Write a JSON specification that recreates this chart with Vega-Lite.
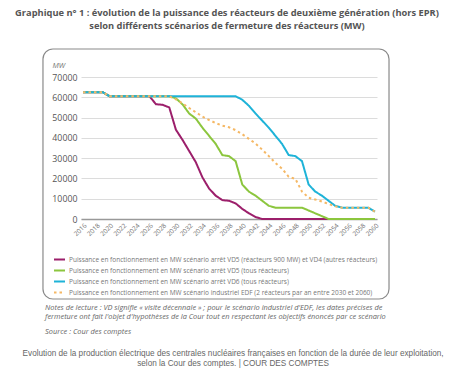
{
  "$schema": "https://vega.github.io/schema/vega-lite/v6.json",
  "padding": {"left": 15, "top": 9, "right": 5, "bottom": 5},
  "background": "white",
  "title": {
    "text": ["Evolution de la production électrique des centrales nucléaires françaises en fonction de la durée de leur exploitation,", "selon la Cour des comptes. | COUR DES COMPTES"],
    "orient": "bottom",
    "anchor": "start",
    "align": "center",
    "font": "Liberation Sans",
    "fontSize": 8.2,
    "fontWeight": "normal",
    "color": "#666666",
    "lineHeight": 10,
    "offset": 15,
    "dx": 218
  },
  "vconcat": [
    {
      "title": {
        "text": ["Notes de lecture : VD signifie « visite décennale » ; pour le scénario industriel d'EDF, les dates précises de", "fermeture ont fait l'objet d'hypothèses de la Cour tout en respectant les objectifs énoncés par ce scénario"],
        "subtitle": "Source : Cour des comptes",
        "orient": "bottom",
        "anchor": "start",
        "font": "Open Sans",
        "fontSize": 7.4,
        "fontStyle": "italic",
        "fontWeight": "normal",
        "color": "#666666",
        "lineHeight": 9.6,
        "subtitleFont": "Open Sans",
        "subtitleFontSize": 7.4,
        "subtitleFontStyle": "italic",
        "subtitleColor": "#666666",
        "subtitlePadding": 7,
        "offset": 4,
        "dx": 30
      },
      "vconcat": [
        {
          "width": 296,
          "height": 142,
          "title": {
            "text": ["Graphique n° 1 : évolution de la puissance des réacteurs de deuxième génération (hors EPR)", "selon différents scénarios de fermeture des réacteurs (MW)"],
            "anchor": "middle",
            "frame": "group",
            "dx": -2,
            "font": "Open Sans",
            "fontSize": 9.3,
            "fontWeight": "bold",
            "color": "#555555",
            "lineHeight": 13,
            "offset": 17
          },
          "layer": [
            {
              "data": {"values": [
                {"year": 2016, "a": 62500, "b": 62500, "c": 62500, "d": 62500},
                {"year": 2017, "a": 62500, "b": 62500, "c": 62500, "d": 62500},
                {"year": 2018, "a": 62500, "b": 62500, "c": 62500, "d": 62500},
                {"year": 2019, "a": 62500, "b": 62500, "c": 62500, "d": 62500},
                {"year": 2020, "a": 60500, "b": 60500, "c": 60500, "d": 60500},
                {"year": 2021, "a": 60500, "b": 60500, "c": 60500, "d": 60500},
                {"year": 2022, "a": 60500, "b": 60500, "c": 60500, "d": 60500},
                {"year": 2023, "a": 60500, "b": 60500, "c": 60500, "d": 60500},
                {"year": 2024, "a": 60500, "b": 60500, "c": 60500, "d": 60500},
                {"year": 2025, "a": 60500, "b": 60500, "c": 60500, "d": 60500},
                {"year": 2026, "a": 60500, "b": 60500, "c": 60500, "d": 60500},
                {"year": 2027, "a": 56600, "b": 60500, "c": 60500, "d": 60500},
                {"year": 2028, "a": 56300, "b": 60500, "c": 60500, "d": 60500},
                {"year": 2029, "a": 55000, "b": 60500, "c": 60500, "d": 60500},
                {"year": 2030, "a": 44000, "b": 59500, "c": 60500, "d": 59000},
                {"year": 2031, "a": 39000, "b": 56500, "c": 60500, "d": 57000},
                {"year": 2032, "a": 33500, "b": 52000, "c": 60500, "d": 54700},
                {"year": 2033, "a": 28000, "b": 49500, "c": 60500, "d": 52600},
                {"year": 2034, "a": 20500, "b": 45000, "c": 60500, "d": 50500},
                {"year": 2035, "a": 15000, "b": 41000, "c": 60500, "d": 48800},
                {"year": 2036, "a": 11500, "b": 37000, "c": 60500, "d": 47300},
                {"year": 2037, "a": 9300, "b": 31500, "c": 60500, "d": 46000},
                {"year": 2038, "a": 9000, "b": 31000, "c": 60500, "d": 45200},
                {"year": 2039, "a": 7700, "b": 28500, "c": 60500, "d": 43800},
                {"year": 2040, "a": 5000, "b": 17000, "c": 58800, "d": 41800},
                {"year": 2041, "a": 2800, "b": 13500, "c": 55800, "d": 39500},
                {"year": 2042, "a": 1000, "b": 11500, "c": 52000, "d": 37200},
                {"year": 2043, "a": 0, "b": 9000, "c": 48500, "d": 34200},
                {"year": 2044, "a": 0, "b": 6500, "c": 45000, "d": 31000},
                {"year": 2045, "a": 0, "b": 5600, "c": 41000, "d": 27600},
                {"year": 2046, "a": 0, "b": 5600, "c": 37000, "d": 24800},
                {"year": 2047, "a": 0, "b": 5600, "c": 31500, "d": 20800},
                {"year": 2048, "a": 0, "b": 5600, "c": 31000, "d": 19800},
                {"year": 2049, "a": 0, "b": 5600, "c": 28500, "d": 13500},
                {"year": 2050, "a": 0, "b": 4200, "c": 17000, "d": 10500},
                {"year": 2051, "a": 0, "b": 2800, "c": 13500, "d": 9600},
                {"year": 2052, "a": 0, "b": 1400, "c": 11500, "d": 8600},
                {"year": 2053, "a": 0, "b": 0, "c": 9000, "d": 7400},
                {"year": 2054, "a": 0, "b": 0, "c": 6500, "d": 6300},
                {"year": 2055, "a": 0, "b": 0, "c": 5600, "d": 5600},
                {"year": 2056, "a": 0, "b": 0, "c": 5600, "d": 5600},
                {"year": 2057, "a": 0, "b": 0, "c": 5600, "d": 5600},
                {"year": 2058, "a": 0, "b": 0, "c": 5600, "d": 5600},
                {"year": 2059, "a": 0, "b": 0, "c": 5600, "d": 5600},
                {"year": 2060, "a": 0, "b": 0, "c": 3600, "d": 3600}
              ]},
              "transform": [{"fold": ["a", "b", "c", "d"], "as": ["s", "mw"]}],
              "mark": {"type": "line", "strokeWidth": 2},
              "encoding": {
                "x": {
                  "field": "year", "type": "quantitative",
                  "scale": {"domain": [2015.7, 2060.3], "nice": false, "zero": false},
                  "axis": {
                    "values": [2016, 2018, 2020, 2022, 2024, 2026, 2028, 2030, 2032, 2034, 2036, 2038, 2040, 2042, 2044, 2046, 2048, 2050, 2052, 2054, 2056, 2058, 2060],
                    "tickCount": 23,
                    "format": "d", "labelAngle": -45, "labelFontSize": 6.5, "labelColor": "#707070", "labelFont": "Open Sans",
                    "labelOverlap": false, "labelBound": false,
                    "grid": false, "ticks": false, "domain": true, "domainColor": "#999999", "domainWidth": 1.5,
                    "title": null, "labelPadding": 3
                  }
                },
                "y": {
                  "field": "mw", "type": "quantitative",
                  "scale": {"domain": [0, 70000], "nice": false},
                  "axis": {
                    "values": [0, 10000, 20000, 30000, 40000, 50000, 60000, 70000],
                    "tickCount": 8,
                    "format": "d", "grid": true, "gridColor": "#dcdcdc", "gridWidth": 1,
                    "labelOverlap": false, "labelBound": false,
                    "domain": false, "ticks": false, "labelFontSize": 8.8, "labelColor": "#555555", "labelFont": "Open Sans",
                    "labelPadding": 4,
                    "title": "MW", "titleAngle": 0, "titleAlign": "left", "titleBaseline": "alphabetic",
                    "titleX": -29, "titleY": -10, "titleFont": "Open Sans", "titleFontSize": 7.5, "titleFontStyle": "italic",
                    "titleFontWeight": "normal", "titleColor": "#777777"
                  }
                },
                "color": {
                  "field": "s", "type": "nominal",
                  "scale": {"domain": ["a", "b", "c", "d"], "range": ["#9c1f6b", "#8cc63e", "#1eb3d8", "#f5b865"]},
                  "legend": {
                    "title": null, "orient": "none", "legendX": -28, "legendY": 176, "direction": "vertical",
                    "labelExpr": "datum.label == 'a' ? 'Puissance en fonctionnement en MW scénario arrêt VD5 (réacteurs 900 MW) et VD4 (autres réacteurs)' : datum.label == 'b' ? 'Puissance en fonctionnement en MW scénario arrêt VD5 (tous réacteurs)' : datum.label == 'c' ? 'Puissance en fonctionnement en MW scénario arrêt VD6 (tous réacteurs)' : 'Puissance en fonctionnement en MW scénario industriel EDF (2 réacteurs par an entre 2030 et 2060)'"
                  }
                },
                "strokeDash": {
                  "field": "s", "type": "nominal",
                  "scale": {"domain": ["a", "b", "c", "d"], "range": [[1, 0], [1, 0], [1, 0], [2.5, 3]]},
                  "legend": {
                    "title": null, "orient": "none", "legendX": -28, "legendY": 176, "direction": "vertical",
                    "labelExpr": "datum.label == 'a' ? 'Puissance en fonctionnement en MW scénario arrêt VD5 (réacteurs 900 MW) et VD4 (autres réacteurs)' : datum.label == 'b' ? 'Puissance en fonctionnement en MW scénario arrêt VD5 (tous réacteurs)' : datum.label == 'c' ? 'Puissance en fonctionnement en MW scénario arrêt VD6 (tous réacteurs)' : 'Puissance en fonctionnement en MW scénario industriel EDF (2 réacteurs par an entre 2030 et 2060)'"
                  }
                }
              }
            },
            {
              "data": {"values": [{}]},
              "mark": {"type": "rect", "filled": false, "stroke": "#8a8a8a", "strokeWidth": 1.2, "cornerRadius": 10},
              "encoding": {
                "x": {"datum": 2009.97, "type": "quantitative"},
                "x2": {"datum": 2062.11},
                "y": {"datum": 83800, "type": "quantitative"},
                "y2": {"datum": -39440}
              }
            }
          ]
        }
      ]
    }
  ],
  "config": {
    "view": {"stroke": null},
    "font": "Open Sans",
    "axis": {"labelOverlap": false},
    "legend": {
      "labelFont": "Open Sans", "labelFontSize": 6.5, "labelColor": "#777777", "labelLimit": 500,
      "symbolType": "stroke", "symbolStrokeWidth": 2, "symbolSize": 121, "rowPadding": -3.3, "labelOffset": 3
    }
  }
}
